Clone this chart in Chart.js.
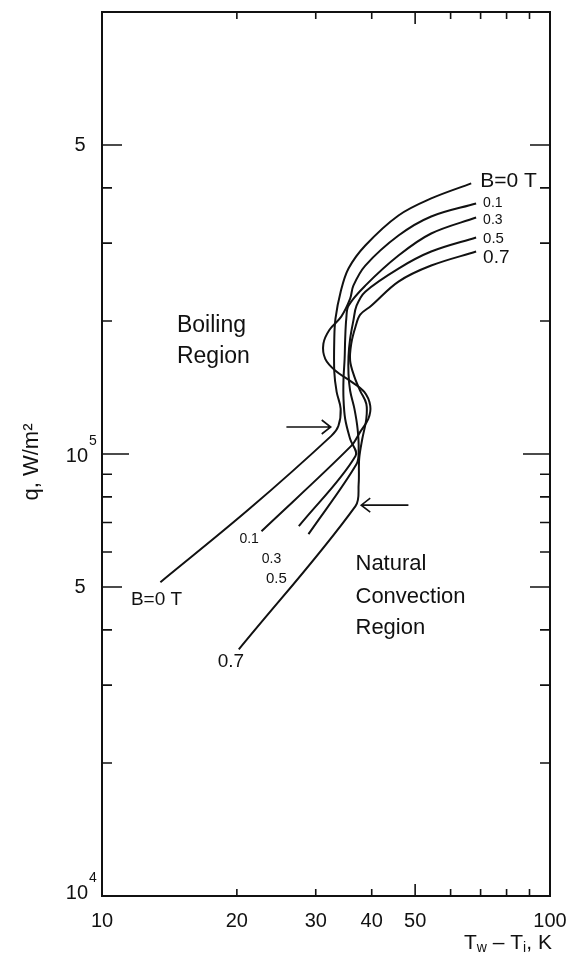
<!DOCTYPE html>
<html>
<head>
<meta charset="utf-8">
<script src="https://cdn.jsdelivr.net/npm/chart.js@4"></script>
<style>
  html, body { margin: 0; padding: 0; background: #fff; }
  canvas { display: block; }
</style>
</head>
<body>
<canvas id="c" width="576" height="954"></canvas>
<script>
// wall superheat Tw-Ti (K) and heat flux q (W/m2), one pair of arrays per field B
const fieldLabels = ['B=0 T', '0.1', '0.3', '0.5', '0.7'];

const dT_b00 = [13.5, 21.3, 32.5, 33.7, 34.1, 33.4, 33.0, 33.0, 33.2, 34.1, 35.5, 38.7, 45.9, 54.3, 66.7];
const q_b00  = [51270, 75050, 109900, 115700, 126500, 138200, 153400, 182300, 202400, 233000, 262800, 296300, 346500, 378600, 409500];

const dT_b01 = [22.7, 36.0, 37.7, 39.3, 39.7, 38.5, 35.8, 33.2, 31.5, 31.2, 32.2, 34.2, 35.8, 36.4, 38.7, 45.9, 54.3, 68.4];
const q_b01  = [66900, 104300, 112200, 120000, 128500, 138200, 146400, 154300, 164200, 177600, 191100, 204500, 224600, 240400, 266900, 312100, 344700, 368900];

const dT_b03 = [27.5, 36.8, 35.8, 34.9, 34.6, 34.6, 34.8, 34.9, 35.1, 35.5, 38.7, 45.9, 54.3, 68.4];
const q_b03  = [68660, 98970, 108100, 120000, 133300, 147900, 164200, 182300, 202400, 216500, 240400, 281200, 315400, 342800];

const dT_b05 = [28.9, 37.0, 37.4, 37.2, 36.6, 35.8, 35.5, 35.5, 35.8, 36.4, 37.0, 38.7, 45.9, 54.3, 68.4];
const q_b05  = [65860, 94910, 102600, 113900, 126500, 139000, 151800, 166000, 182300, 200300, 216500, 233000, 262800, 287100, 308900];

const dT_b07 = [20.2, 36.8, 37.4, 37.5, 38.1, 38.9, 38.9, 37.7, 36.6, 35.8, 36.0, 36.8, 37.7, 39.9, 45.9, 54.3, 68.4];
const q_b07  = [36130, 76240, 85510, 97430, 108100, 120000, 129900, 139000, 149500, 162500, 177600, 194100, 206700, 216500, 245500, 266900, 287100];

// axis ticks
const xTickLabels = [10, 20, 30, 40, 50, 100];
const xMinorTicks = [20, 30, 40, 60, 70, 80, 90];
const xMidTicks = [50];
const yMinorTicks = [2e4, 3e4, 4e4, 6e4, 7e4, 8e4, 9e4, 2e5, 3e5, 4e5];
const yMajorTicks = [5e4, 5e5];
const yDecadeTicks = [1e5];

const xs = [dT_b00, dT_b01, dT_b03, dT_b05, dT_b07];
const ys = [q_b00, q_b01, q_b03, q_b05, q_b07];

const INK = '#111';
const FONT = '"Liberation Sans", Arial, sans-serif';

function font(px) { return px + 'px ' + FONT; }

// text placed on the plot in data coordinates
const notes = [
  { t: 'B=0 T', x: 69.9, y: 4.14e5, size: 21, align: 'left' },
  { t: '0.1', x: 70.9, y: 3.69e5, size: 14, align: 'left' },
  { t: '0.3', x: 70.9, y: 3.39e5, size: 14, align: 'left' },
  { t: '0.5', x: 70.9, y: 3.07e5, size: 15, align: 'left' },
  { t: '0.7', x: 70.9, y: 2.78e5, size: 19, align: 'left' },
  { t: 'Boiling', x: 14.7, y: 1.95e5, size: 23, align: 'left' },
  { t: 'Region', x: 14.7, y: 1.66e5, size: 23, align: 'left' },
  { t: 'B=0 T', x: 11.6, y: 4.69e4, size: 19, align: 'left' },
  { t: '0.1', x: 21.3, y: 6.42e4, size: 14, align: 'center' },
  { t: '0.3', x: 23.9, y: 5.78e4, size: 14, align: 'center' },
  { t: '0.5', x: 24.5, y: 5.21e4, size: 15, align: 'center' },
  { t: '0.7', x: 19.4, y: 3.38e4, size: 19, align: 'center' },
  { t: 'Natural', x: 36.8, y: 5.63e4, size: 22, align: 'left' },
  { t: 'Convection', x: 36.8, y: 4.76e4, size: 22, align: 'left' },
  { t: 'Region', x: 36.8, y: 4.05e4, size: 22, align: 'left' }
];
const arrows = [
  { x0: 25.8, x1: 32.4, y: 1.151e5 },
  { x0: 48.3, x1: 37.9, y: 7.66e4 }
];

const paperPlugin = {
  id: 'paper',
  afterDraw(chart) {
    const { ctx, chartArea: a } = chart;
    const sx = chart.scales.x, sy = chart.scales.y;
    ctx.save();
    ctx.strokeStyle = INK;
    ctx.fillStyle = INK;

    // frame
    ctx.lineWidth = 2;
    ctx.strokeRect(a.left, a.top, a.right - a.left, a.bottom - a.top);

    // inward ticks
    ctx.lineWidth = 1.6;
    const hTick = (v, len) => {
      const y = sy.getPixelForValue(v);
      ctx.beginPath();
      ctx.moveTo(a.left, y); ctx.lineTo(a.left + len, y);
      ctx.moveTo(a.right, y); ctx.lineTo(a.right - len, y);
      ctx.stroke();
    };
    const vTick = (v, len) => {
      const x = sx.getPixelForValue(v);
      ctx.beginPath();
      ctx.moveTo(x, a.bottom); ctx.lineTo(x, a.bottom - len);
      ctx.moveTo(x, a.top); ctx.lineTo(x, a.top + len);
      ctx.stroke();
    };
    yMinorTicks.forEach(v => hTick(v, 10));
    yMajorTicks.forEach(v => hTick(v, 20));
    yDecadeTicks.forEach(v => hTick(v, 27));
    xMinorTicks.forEach(v => vTick(v, 7));
    xMidTicks.forEach(v => vTick(v, 12));

    // x tick labels
    ctx.font = font(20);
    ctx.textAlign = 'center';
    ctx.textBaseline = 'middle';
    xTickLabels.forEach(v => ctx.fillText(String(v), sx.getPixelForValue(v), a.bottom + 25));

    // y tick labels
    yMajorTicks.forEach(v => {
      ctx.font = font(20);
      ctx.textAlign = 'center';
      ctx.fillText('5', a.left - 22, sy.getPixelForValue(v));
    });
    [1e4, 1e5].forEach(v => {
      const y = sy.getPixelForValue(v) + (v === 1e4 ? -3 : 2);
      ctx.font = font(20);
      ctx.textAlign = 'right';
      ctx.fillText('10', a.left - 14, y);
      ctx.font = font(14);
      ctx.textAlign = 'left';
      ctx.fillText(String(Math.round(Math.log10(v))), a.left - 13, y - 15);
    });

    // axis titles
    ctx.save();
    ctx.translate(32, (a.top + a.bottom) / 2 + 8);
    ctx.rotate(-Math.PI / 2);
    ctx.font = font(22);
    ctx.textAlign = 'center';
    ctx.fillText('q, W/m\u00B2', 0, 0);
    ctx.restore();

    const parts = [['T', 21, 0], ['w', 14, 5], [' \u2013 T', 21, 0], ['i', 14, 5], [', K', 21, 0]];
    let tx = a.right - 86;
    const ty = a.bottom + 47;
    ctx.textAlign = 'left';
    parts.forEach(([s, size, dy]) => {
      ctx.font = font(size);
      ctx.fillText(s, tx, ty + dy);
      tx += ctx.measureText(s).width;
    });

    // annotations
    notes.forEach(n => {
      ctx.font = font(n.size);
      ctx.textAlign = n.align;
      ctx.fillText(n.t, sx.getPixelForValue(n.x), sy.getPixelForValue(n.y));
    });

    ctx.lineWidth = 1.6;
    arrows.forEach(ar => {
      const x0 = sx.getPixelForValue(ar.x0), x1 = sx.getPixelForValue(ar.x1);
      const y = sy.getPixelForValue(ar.y);
      const d = Math.sign(x1 - x0);
      ctx.beginPath();
      ctx.moveTo(x0, y); ctx.lineTo(x1, y);
      ctx.moveTo(x1 - d * 9, y - 7); ctx.lineTo(x1, y); ctx.lineTo(x1 - d * 9, y + 7);
      ctx.stroke();
    });

    ctx.restore();
  }
};

new Chart(document.getElementById('c').getContext('2d'), {
  type: 'scatter',
  data: {
    datasets: fieldLabels.map((lab, k) => ({
      label: lab,
      data: xs[k].map((x, i) => ({ x, y: ys[k][i] })),
      showLine: true,
      borderColor: INK,
      borderWidth: 2,
      pointRadius: 0,
      tension: 0.35,
      fill: false
    }))
  },
  options: {
    responsive: false,
    animation: false,
    layout: { padding: { left: 102, right: 26, top: 12, bottom: 58 } },
    scales: {
      x: { type: 'logarithmic', min: 10, max: 100, display: false },
      y: { type: 'logarithmic', min: 1e4, max: 1e6, display: false }
    },
    plugins: { legend: { display: false }, tooltip: { enabled: false } }
  },
  plugins: [paperPlugin]
});
</script>
</body>
</html>
